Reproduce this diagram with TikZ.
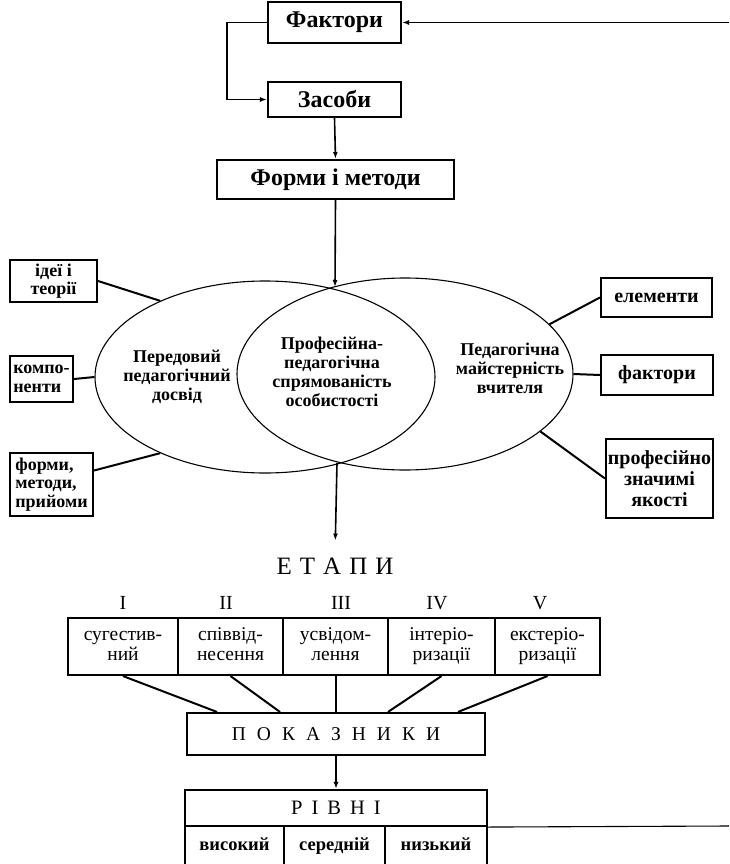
\documentclass[tikz,border=0pt]{standalone}
\usepackage{fontspec}
\setmainfont{Liberation Serif}
\usetikzlibrary{arrows.meta,shapes.geometric}
\newcommand{\twoln}[2]{\strut #1\\#2\strut}
\begin{document}
\begin{tikzpicture}[x=1pt,y=-1pt,
 box/.style={draw,line width=2.1pt,inner sep=0pt,align=center},
 big/.style={font=\bfseries\fontsize{24}{26}\selectfont},
 side/.style={font=\bfseries\fontsize{18}{18.5}\selectfont},
 rside/.style={font=\bfseries\fontsize{20}{21}\selectfont},
 ell/.style={draw,ellipse,line width=1.1pt,inner sep=0pt},
 etxt/.style={align=center,font=\bfseries\fontsize{18}{19}\selectfont},
 stg/.style={box,minimum height=57,font=\fontsize{19.5}{20}\selectfont},
 num/.style={font=\fontsize{20}{21}\selectfont},
 lvl/.style={box,minimum height=40,text height=12pt,text depth=4pt,font=\bfseries\fontsize{18.5}{20}\selectfont},
 conn/.style={line width=2pt},
 arr/.style={line width=1.6pt,-{Latex[length=7pt,width=5pt]}}
]
\clip (0,0) rectangle (729,864);
\fill[white] (0,0) rectangle (729,864);

% top chain
\node[box,big,minimum width=133,minimum height=41] (F) at (334.5,22.5) {Фактори};
\node[box,big,minimum width=133,minimum height=35] (Z) at (334.5,99.5) {Засоби};
\node[box,big,minimum width=237,minimum height=39] (FM) at (335.5,179.5) {Форми і методи};
\coordinate (fr) at (729,22.5);
\draw[arr] (fr) -- (F.east);
\draw[arr] (F.west) -- ++(-40,0) |- (Z.west);
\draw[arr] (Z.south) -- (FM.north);

% ellipses
\node[ell,minimum width=340,minimum height=192] (L) at (265,377) {};
\node[ell,minimum width=336,minimum height=192] (R) at (405,374) {};
\coordinate (top) at (335,287);
\coordinate (bot) at (337,463);
\draw[arr] (FM.south) -- (top);

\node[etxt] (Lt) at (177,377) {Передовий\\педагогічний\\досвід};
\node[etxt] (Mt) at (332,372) {Професійна-\\педагогічна\\спрямованість\\особистості};
\node[etxt] (Rt) at (510,368) {Педагогічна\\майстерність\\вчителя};

% side boxes
\node[box,side,minimum width=87,minimum height=42] (b1) at (53.5,281) {ідеї і\\теорії};
\node[box,side,minimum width=63,minimum height=46,align=left] (b2) at (41.5,379) {компо-\\ненти};
\node[box,side,minimum width=83,minimum height=63,align=left] (b3) at (51.5,484.5) {форми,\\методи,\\прийоми};
\node[box,rside,minimum width=111,minimum height=39] (e1) at (656.5,297.5) {елементи};
\node[box,rside,minimum width=112,minimum height=40] (e2) at (657,375) {фактори};
\node[box,rside,minimum width=107,minimum height=79] (e3) at (659.5,478.5) {професійно\\значимі\\якості};

\draw[conn] (b1.east) -- (L.144);
\draw[conn] (b2.east) -- (L.west);
\draw[conn] ([yshift=14pt]b3.east) -- (L.216);
\draw[conn] (e1.west) -- (R.19);
\draw[conn] (e2.west) -- (R.east);
\draw[conn] (e3.west) -- (R.-23);

% stages
\node[font=\fontsize{25}{27}\selectfont,inner sep=2pt] (et) at (335,566) {Е\kern8pt Т\kern8pt А\kern8pt П\kern8pt И};
\draw[arr,shorten >=15pt] (bot) -- (et.north);

\node[num] (n1) at (123,603) {I};
\node[num] (n2) at (226,603) {II};
\node[num] (n3) at (341,603) {III};
\node[num] (n4) at (437,603) {IV};
\node[num] (n5) at (540,603) {V};

\node[stg,minimum width=110] (s1) at (123,646.5) {\twoln{сугестив-}{ний}};
\node[stg,minimum width=105] (s2) at (230.5,646.5) {\twoln{співвід-}{несення}};
\node[stg,minimum width=105] (s3) at (335.5,646.5) {\twoln{усвідом-}{лення}};
\node[stg,minimum width=107] (s4) at (441.5,646.5) {\twoln{інтеріо-}{ризації}};
\node[stg,minimum width=105] (s5) at (547.5,646.5) {\twoln{екстеріо-}{ризації}};

\node[box,minimum width=298,minimum height=42,font=\fontsize{19.5}{20}\selectfont] (P) at (336,734)
  {П\kern11pt О\kern11pt К\kern11pt А\kern11pt З\kern11pt Н\kern11pt И\kern11pt К\kern11pt И};

\draw[conn] (s1.south) -- ([xshift=-119pt]P.north);
\draw[conn] (s2.south) -- ([xshift=-56pt]P.north);
\draw[conn] (s3.south) -- (s3.south |- P.north);
\draw[conn] (s4.south) -- ([xshift=52pt]P.north);
\draw[conn] (s5.south) -- ([xshift=122pt]P.north);

% levels
\node[box,minimum width=302,minimum height=36,font=\fontsize{20.5}{21}\selectfont] (RVt) at (336,808)
  {Р\kern9pt І\kern9pt В\kern9pt Н\kern9pt І};
\draw[arr] (P.south) -- (RVt.north);
\node[lvl,minimum width=99] (v1) at (234.5,846) {високий};
\node[lvl,minimum width=101] (v2) at (334.5,846) {середній};
\node[lvl,minimum width=102] (v3) at (436,846) {низький};
\coordinate (rr) at (729,826);
\draw[line width=1.1pt] (RVt.south east) -- (rr);
\end{tikzpicture}
\end{document}
